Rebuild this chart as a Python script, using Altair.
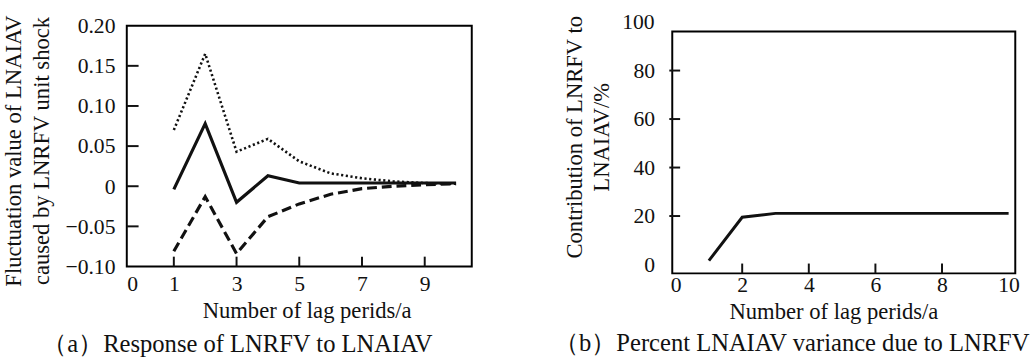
import altair as alt
import pandas as pd

# ---------------- data ----------------
periods = [1, 2, 3, 4, 5, 6, 7, 8, 9, 10]
response = [-0.004, 0.078, -0.020, 0.013, 0.004, 0.004, 0.004, 0.004, 0.004, 0.004]
upper_band = [0.070, 0.165, 0.043, 0.059, 0.031, 0.016, 0.010, 0.006, 0.004, 0.003]
lower_band = [-0.081, -0.013, -0.084, -0.038, -0.022, -0.010, -0.003, 0.000, 0.002, 0.003]
contribution = [1.6, 19.5, 21.1, 21.1, 21.1, 21.1, 21.1, 21.1, 21.1, 21.1]

xticks_a = [1, 3, 5, 7, 9]
yticks_a = [-0.05, 0.0, 0.05, 0.10, 0.15]
xticks_b = [2, 4, 6, 8]
yticks_b = [20, 40, 60, 80]

title_a_y = ["Fluctuation value of LNAIAV", "caused by LNRFV  unit shock"]
title_b_y = ["Contribution of LNRFV to", "LNAIAV/%"]
x_title = "Number of lag perids/a"
caption_a = "（a）Response of LNRFV to LNAIAV"
caption_b = "（b）Percent LNAIAV variance due to LNRFV"

FONT = "'Liberation Serif', 'Times New Roman', 'DejaVu Serif', serif"
INK = "#111111"
LAB = 22   # tick label size
TIT = 23   # axis title size
CAP = 25   # caption size

# ---------------- panel (a) ----------------
W1, H1 = 351, 245
xs_a = alt.Scale(domain=[-0.5, 10.5], nice=False, zero=False)
ys_a = alt.Scale(domain=[-0.10, 0.20], nice=False, zero=False)

df_a = pd.DataFrame({"period": periods, "resp": response, "up": upper_band, "lo": lower_band})

x_axis_a = alt.Axis(values=[-0.5] + xticks_a, labelExpr="datum.value < 0 ? '0' : datum.label",
                    ticks=False, tickSize=0, domain=False, grid=False, labelFont=FONT,
                    labelFontSize=LAB, labelColor=INK, labelPadding=7, title=x_title,
                    titleFont=FONT, titleFontSize=TIT, titleFontWeight="normal",
                    titleColor=INK, titlePadding=6, titleX=183)
y_axis_a = alt.Axis(values=[-0.10, -0.05, 0, 0.05, 0.10, 0.15, 0.20],
                    labelExpr="datum.value == 0 ? '0' : format(datum.value, '.2f')",
                    ticks=False, tickSize=0, domain=False, grid=False, labelFont=FONT,
                    labelFontSize=LAB, labelColor=INK, labelPadding=12, title=title_a_y,
                    titleFont=FONT, titleFontSize=TIT, titleFontWeight="normal",
                    titleColor=INK, titlePadding=12, titleLineHeight=28, titleY=127)

base_a = alt.Chart(df_a)
solid = base_a.mark_line(color=INK, strokeWidth=3.2).encode(
    x=alt.X("period:Q", scale=xs_a, axis=x_axis_a),
    y=alt.Y("resp:Q", scale=ys_a, axis=y_axis_a))
dotted = base_a.mark_line(color=INK, strokeWidth=2.6, strokeDash=[2.2, 2.6]).encode(
    x=alt.X("period:Q", scale=xs_a), y=alt.Y("up:Q", scale=ys_a))
dashed = base_a.mark_line(color=INK, strokeWidth=3.2, strokeDash=[10, 5]).encode(
    x=alt.X("period:Q", scale=xs_a), y=alt.Y("lo:Q", scale=ys_a))

tx_a = alt.Chart(pd.DataFrame({"t": xticks_a})).mark_rule(color=INK, strokeWidth=2).encode(
    x=alt.X("t:Q", scale=xs_a), y=alt.value(H1), y2=alt.value(H1 - 10))
ty_a = alt.Chart(pd.DataFrame({"t": yticks_a})).mark_rule(color=INK, strokeWidth=2).encode(
    y=alt.Y("t:Q", scale=ys_a), x=alt.value(0), x2=alt.value(12))

panel_a = alt.layer(solid, dotted, dashed, tx_a, ty_a).properties(
    width=W1, height=H1,
    title=alt.TitleParams(caption_a, orient="bottom", frame="bounds", anchor="middle",
                          font=FONT, fontSize=CAP, fontWeight="normal", color=INK, offset=10))

# ---------------- panel (b) ----------------
W2, H2 = 349, 252
xs_b = alt.Scale(domain=[-0.1, 10.2], nice=False, zero=False)
ys_b = alt.Scale(domain=[-3.65, 98.5], nice=False, zero=False)
frame_x = [-0.1, 10.2]
frame_y = [-3.65, 96.1]

df_b = pd.DataFrame({"period": periods, "contrib": contribution})

x_axis_b = alt.Axis(values=[0, 2, 4, 6, 8, 10], ticks=False, tickSize=0, domain=False,
                    grid=False, labelFont=FONT, labelFontSize=LAB, labelColor=INK,
                    labelPadding=1, title=x_title, titleFont=FONT, titleFontSize=TIT,
                    titleFontWeight="normal", titleColor=INK, titlePadding=6, titleX=164)
y_axis_b = alt.Axis(values=[0, 20, 40, 60, 80], ticks=False, tickSize=0, domain=False,
                    grid=False, labelFont=FONT, labelFontSize=LAB, labelColor=INK,
                    labelPadding=18, title=title_b_y, titleFont=FONT, titleFontSize=TIT,
                    titleFontWeight="normal", titleColor=INK, titlePadding=20,
                    titleLineHeight=27, titleY=113)

frame_b = alt.Chart(pd.DataFrame({"x0": [frame_x[0]], "x1": [frame_x[1]],
                                  "y0": [frame_y[0]], "y1": [frame_y[1]]})).mark_rect(
    filled=False, stroke="black", strokeWidth=2).encode(
    x=alt.X("x0:Q", scale=xs_b), x2="x1:Q", y=alt.Y("y0:Q", scale=ys_b), y2="y1:Q")
line_b = alt.Chart(df_b).mark_line(color=INK, strokeWidth=3).encode(
    x=alt.X("period:Q", scale=xs_b, axis=x_axis_b),
    y=alt.Y("contrib:Q", scale=ys_b, axis=y_axis_b))
top_label = alt.Chart(pd.DataFrame({"v": [100]})).mark_text(
    font=FONT, fontSize=LAB, color=INK, align="right", baseline="middle").encode(
    y=alt.Y("v:Q", scale=ys_b), x=alt.value(-18), text=alt.Text("v:Q"))
tx_b = alt.Chart(pd.DataFrame({"t": xticks_b})).mark_rule(color=INK, strokeWidth=2).encode(
    x=alt.X("t:Q", scale=xs_b), y=alt.value(H2), y2=alt.value(H2 - 10))
ty_b = alt.Chart(pd.DataFrame({"t": yticks_b})).mark_rule(color=INK, strokeWidth=2).encode(
    y=alt.Y("t:Q", scale=ys_b), x=alt.value(-3), x2=alt.value(8))

panel_b = alt.layer(line_b, frame_b, top_label, tx_b, ty_b).properties(
    width=W2, height=H2, view=alt.ViewBackground(stroke="transparent"),
    title=alt.TitleParams(caption_b, orient="bottom", frame="bounds", anchor="middle",
                          font=FONT, fontSize=CAP, fontWeight="normal", color=INK, offset=8))

chart = alt.hconcat(panel_a, panel_b, spacing=81).properties(
    padding={"left": 2, "top": 7, "right": 0, "bottom": 0},
    background="white"
).configure_view(stroke="black", strokeWidth=2)

chart.save("out.html", embed_options={"renderer": "svg", "actions": False})
